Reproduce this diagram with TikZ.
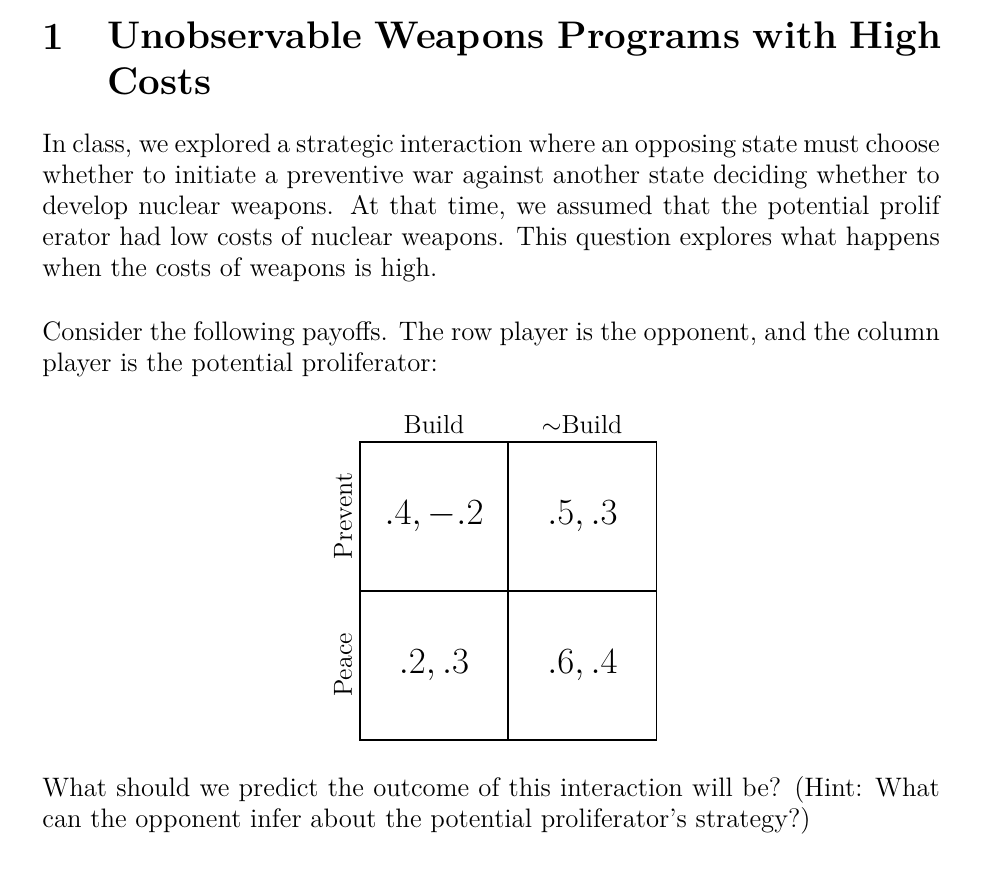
\documentclass[tikz,border=0pt]{standalone}
\tikzset{
  body/.style={anchor=north west,inner sep=0pt,text width=420pt,align=justify,font=\fontsize{12.5}{14.5}\selectfont},
  head/.style={anchor=base west,inner sep=0pt,font=\fontsize{18}{21.5}\selectfont\bfseries},
  cell/.style={draw,line width=0.8pt,minimum width=148*0.01645cm,minimum height=149*0.01645cm,inner sep=0pt,font=\LARGE},
  lab/.style={inner sep=0pt,font=\fontsize{12.2}{14.5}\selectfont}
}
\begin{document}
\begin{tikzpicture}[x=0.01645cm,y=-0.01645cm]
\useasboundingbox (0,0) rectangle (986,876);
\node[head] (num) at (42,50) {1};
\node[head,text width=395pt,align=left,anchor=north west] (title) at (107,21) {Unobservable Weapons Programs with High Costs};
\node[body] (p1) at (42,134) {In class, we explored a strategic interaction where an opposing state must choose whether to initiate a preventive war against another state deciding whether to develop nuclear weapons. At that time, we assumed that the potential prolif\-\linebreak erator had low costs of nuclear weapons. This question explores what happens\linebreak when the costs of weapons is high.};
\node[body] (p2) at (42,321) {Consider the following payoffs. The row player is the opponent, and the column player is the potential proliferator:};
\node[cell] (c11) at (434,516.5) {$.4,-.2$};
\node[cell] (c12) at (582.5,516.5) {$.5,.3$};
\node[cell] (c21) at (434,665.5) {$.2,.3$};
\node[cell] (c22) at (582.5,665.5) {$.6,.4$};
\node[lab] (h1) at (434,425) {Build};
\node[lab] (h2) at (582,425) {$\sim$Build};
\node[lab,rotate=90] (r1) at (343,516) {Prevent};
\node[lab,rotate=90] (r2) at (343,665) {Peace};
\node[body] (p3) at (42,776) {What should we predict the outcome of this interaction will be? (Hint: What\linebreak can the opponent infer about the potential proliferator's strategy?)};
\end{tikzpicture}
\end{document}
